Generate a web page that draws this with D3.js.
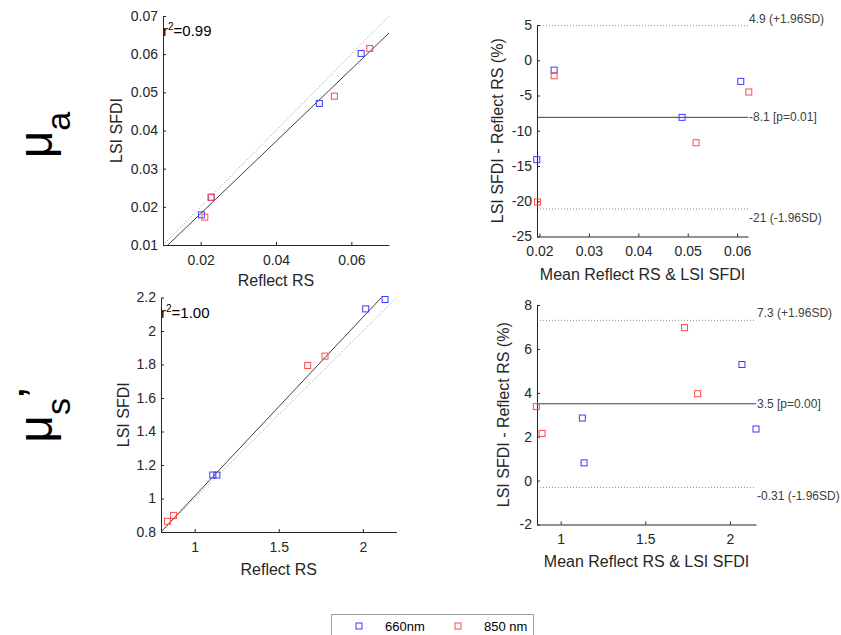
<!DOCTYPE html>
<html>
<head>
<meta charset="utf-8">
<script src="https://cdn.jsdelivr.net/npm/d3@7"></script>
<style>
  body { margin: 0; background: #fff; }
  svg { font-family: "Liberation Sans", Arial, sans-serif; }
</style>
</head>
<body>
<svg id="chart" width="841" height="635"></svg>
<script>
// ---- data ----
// mu_a : scatter (Reflect RS vs LSI SFDI)
const muaRS660 = [0.0202, 0.0228, 0.0515, 0.0626]
const muaLSI660 = [0.0179, 0.0225, 0.0471, 0.0602]
const muaRS850 = [0.0211, 0.0228, 0.0555, 0.0649]
const muaLSI850 = [0.0173, 0.0225, 0.0490, 0.0615]
const muaFit = [0.946, -0.00069] // slope, intercept
const muaR2 = '0.99'

// mu_a : Bland-Altman
const muaMean660 = [0.01946, 0.02297, 0.04885, 0.06074]
const muaDiff660 = [-14.1, -1.4, -8.1, -3.0]
const muaMean850 = [0.0196, 0.02297, 0.05169, 0.06236]
const muaDiff850 = [-20.1, -2.2, -11.7, -4.5]
const muaLimits = [4.9, -8.1, -21.1]
const muaLimitLabels = ['4.9 (+1.96SD)', '-8.1 [p=0.01]', '-21 (-1.96SD)']

// mu_s' : scatter
const musRS660 = [1.108, 1.132, 2.017, 2.132]
const musLSI660 = [1.140, 1.140, 2.132, 2.188]
const musRS850 = [0.838, 0.875, 1.672, 1.775]
const musLSI850 = [0.864, 0.899, 1.794, 1.850]
const musFit = [1.068, -0.054]
const musR2 = '1.00'

// mu_s' : Bland-Altman
const musMean660 = [1.128, 1.138, 2.071, 2.154]
const musDiff660 = [2.85, 0.81, 5.29, 2.35]
const musMean850 = [0.856, 0.890, 1.732, 1.809]
const musDiff850 = [3.37, 2.15, 6.97, 3.96]
const musLimits = [7.3, 3.5, -0.31]
const musLimitLabels = ['7.3 (+1.96SD)', '3.5 [p=0.00]', '-0.31 (-1.96SD)']

const seriesNames = ['660nm', '850 nm']
const seriesColors = ['#3a3aff', '#ff4a4a']

const AXIS_COLOR = '#262626'
const MARK = 6

const svg = d3.select('#chart')
const fmt = d => String(+d.toFixed(3))

const zip = (xs, ys) => xs.map((x, i) => [x, ys[i]])

const drawAxes = (g, x, y, xTicks, yTicks) => {
  g.append('g')
    .attr('transform', 'translate(0,' + y.range()[0] + ')')
    .call(d3.axisBottom(x).tickValues(xTicks).tickFormat(fmt)
      .tickSizeInner(-3).tickSizeOuter(0).tickPadding(10))
  g.append('g')
    .attr('transform', 'translate(' + x.range()[0] + ',0)')
    .call(d3.axisLeft(y).tickValues(yTicks).tickFormat(fmt)
      .tickSizeInner(-3).tickSizeOuter(0).tickPadding(5))
  g.selectAll('.domain').attr('stroke', AXIS_COLOR)
  g.selectAll('.tick line').attr('stroke', AXIS_COLOR)
  g.selectAll('.tick text')
    .attr('fill', AXIS_COLOR)
    .style('font-size', '14px')
    .style('font-family', '"Liberation Sans", Arial, sans-serif')
}

const drawPoints = (g, x, y, sets) => {
  sets.forEach((pts, i) => {
    g.append('g').selectAll('rect')
      .data(pts)
      .enter()
      .append('rect')
      .attr('x', d => x(d[0]) - MARK / 2)
      .attr('y', d => y(d[1]) - MARK / 2)
      .attr('width', MARK)
      .attr('height', MARK)
      .attr('fill', 'none')
      .attr('stroke', seriesColors[i])
      .attr('stroke-width', 1)
  })
}

const axisLabels = (g, x, y, xLabel, yLabel, xLabelY, yLabelX) => {
  const xr = x.range()
  const yr = y.range()
  g.append('text')
    .attr('x', (xr[0] + xr[1]) / 2)
    .attr('y', xLabelY)
    .attr('text-anchor', 'middle')
    .attr('fill', AXIS_COLOR)
    .style('font-size', '16px')
    .text(xLabel)
  g.append('text')
    .attr('transform', 'translate(' + yLabelX + ',' + (yr[0] + yr[1]) / 2 + ') rotate(-90)')
    .attr('text-anchor', 'middle')
    .attr('fill', AXIS_COLOR)
    .style('font-size', '16px')
    .text(yLabel)
}

let clipId = 0
const drawScatter = ({ xRange, yRange, domain, ticks, yTicks, rs, lsi, fit, r2, xLabelY, yLabelX }) => {
  const x = d3.scaleLinear().domain(domain).range(xRange)
  const y = d3.scaleLinear().domain(domain).range(yRange)
  const g = svg.append('g')
  const id = 'clip' + (clipId++)

  g.append('clipPath').attr('id', id)
    .append('rect')
    .attr('x', xRange[0]).attr('y', yRange[1])
    .attr('width', xRange[1] - xRange[0])
    .attr('height', yRange[0] - yRange[1])

  const lines = g.append('g').attr('clip-path', 'url(#' + id + ')')
  // identity line
  lines.append('line')
    .attr('x1', x(domain[0])).attr('y1', y(domain[0]))
    .attr('x2', x(domain[1])).attr('y2', y(domain[1]))
    .attr('stroke', '#909090')
    .attr('stroke-dasharray', '1,2')
  // fitted line
  lines.append('line')
    .attr('x1', x(domain[0])).attr('y1', y(fit[0] * domain[0] + fit[1]))
    .attr('x2', x(domain[1])).attr('y2', y(fit[0] * domain[1] + fit[1]))
    .attr('stroke', '#404040')
    .attr('stroke-width', 1)

  drawAxes(g, x, y, ticks, yTicks)
  drawPoints(g, x, y, [zip(rs[0], lsi[0]), zip(rs[1], lsi[1])])

  const t = g.append('text')
    .attr('x', xRange[0])
    .attr('y', yRange[1] + 20)
    .attr('fill', '#000')
    .style('font-size', '15px')
  t.append('tspan').text('r')
  t.append('tspan').attr('dy', -6).style('font-size', '10px').text('2')
  t.append('tspan').attr('dy', 6).text('=' + r2)

  axisLabels(g, x, y, 'Reflect RS', 'LSI SFDI', xLabelY, yLabelX)
}

const drawBA = ({ xRange, yRange, xDomain, yDomain, xTicks, yTicks, means, diffs, limits, labels, xLabelY, yLabelX }) => {
  const x = d3.scaleLinear().domain(xDomain).range(xRange)
  const y = d3.scaleLinear().domain(yDomain).range(yRange)
  const g = svg.append('g')

  g.append('g').selectAll('line')
    .data(limits)
    .enter()
    .append('line')
    .attr('x1', xRange[0]).attr('x2', xRange[1])
    .attr('y1', d => y(d)).attr('y2', d => y(d))
    .attr('stroke', (d, i) => i === 1 ? '#404040' : '#909090')
    .attr('stroke-dasharray', (d, i) => i === 1 ? null : '1,2')

  g.append('g').selectAll('text')
    .data(limits)
    .enter()
    .append('text')
    .attr('x', xRange[1] + 1)
    .attr('y', (d, i) => y(d) + [-3, 4, 13][i])
    .attr('fill', '#404040')
    .style('font-size', '12px')
    .text((d, i) => labels[i])

  drawAxes(g, x, y, xTicks, yTicks)
  drawPoints(g, x, y, [zip(means[0], diffs[0]), zip(means[1], diffs[1])])
  axisLabels(g, x, y, 'Mean Reflect RS & LSI SFDI', 'LSI SFDI - Reflect RS (%)', xLabelY, yLabelX)
}

drawScatter({
  xRange: [163, 389], yRange: [245, 16], domain: [0.01, 0.07],
  ticks: [0.02, 0.04, 0.06], yTicks: d3.range(0.01, 0.0701, 0.01),
  rs: [muaRS660, muaRS850], lsi: [muaLSI660, muaLSI850],
  fit: muaFit, r2: muaR2, xLabelY: 286, yLabelX: 122,
})

drawBA({
  xRange: [537, 748], yRange: [236.5, 25], xDomain: [0.0195, 0.0622], yDomain: [-25, 5],
  xTicks: [0.02, 0.03, 0.04, 0.05, 0.06], yTicks: d3.range(-25, 5.1, 5),
  means: [muaMean660, muaMean850], diffs: [muaDiff660, muaDiff850],
  limits: muaLimits, labels: muaLimitLabels, xLabelY: 280, yLabelX: 503,
})

drawScatter({
  xRange: [161, 396.5], yRange: [532, 297.5], domain: [0.8, 2.2],
  ticks: [1, 1.5, 2], yTicks: d3.range(0.8, 2.21, 0.2),
  rs: [musRS660, musRS850], lsi: [musLSI660, musLSI850],
  fit: musFit, r2: musR2, xLabelY: 575, yLabelX: 129,
})

drawBA({
  xRange: [537, 756], yRange: [524.5, 305], xDomain: [0.86, 2.154], yDomain: [-2, 8],
  xTicks: [1, 1.5, 2], yTicks: d3.range(-2, 8.1, 2),
  means: [musMean660, musMean850], diffs: [musDiff660, musDiff850],
  limits: musLimits, labels: musLimitLabels, xLabelY: 567, yLabelX: 509,
})

// row labels
const rowA = svg.append('text')
  .attr('transform', 'translate(52,135) rotate(-90)')
  .attr('text-anchor', 'middle')
  .attr('fill', '#000')
  .style('font-size', '48px')
rowA.append('tspan').text('μ')
rowA.append('tspan').attr('dy', 18).style('font-size', '34px').text('a')

const rowS = svg.append('text')
  .attr('transform', 'translate(52,415) rotate(-90)')
  .attr('text-anchor', 'middle')
  .attr('fill', '#000')
  .style('font-size', '48px')
rowS.append('tspan').text('μ')
rowS.append('tspan').attr('dy', 18).style('font-size', '34px').text('s')
rowS.append('tspan').attr('dy', -18).style('font-size', '48px').text('’')

// legend
const legend = svg.append('g')
legend.append('rect')
  .attr('x', 331.5).attr('y', 614.5)
  .attr('width', 202).attr('height', 30)
  .attr('fill', '#fff')
  .attr('stroke', '#a0a0a0')
const legendItems = legend.selectAll('g.item')
  .data(seriesNames)
  .enter()
  .append('g')
  .attr('class', 'item')
  .attr('transform', (d, i) => 'translate(' + (359 + i * 99) + ',626)')
legendItems.append('rect')
  .attr('x', -MARK / 2).attr('y', -MARK / 2)
  .attr('width', MARK).attr('height', MARK)
  .attr('fill', 'none')
  .attr('stroke', (d, i) => seriesColors[i])
legendItems.append('text')
  .attr('x', 26).attr('y', 5)
  .attr('fill', '#000')
  .style('font-size', '13px')
  .text(d => d)
</script>
</body>
</html>
